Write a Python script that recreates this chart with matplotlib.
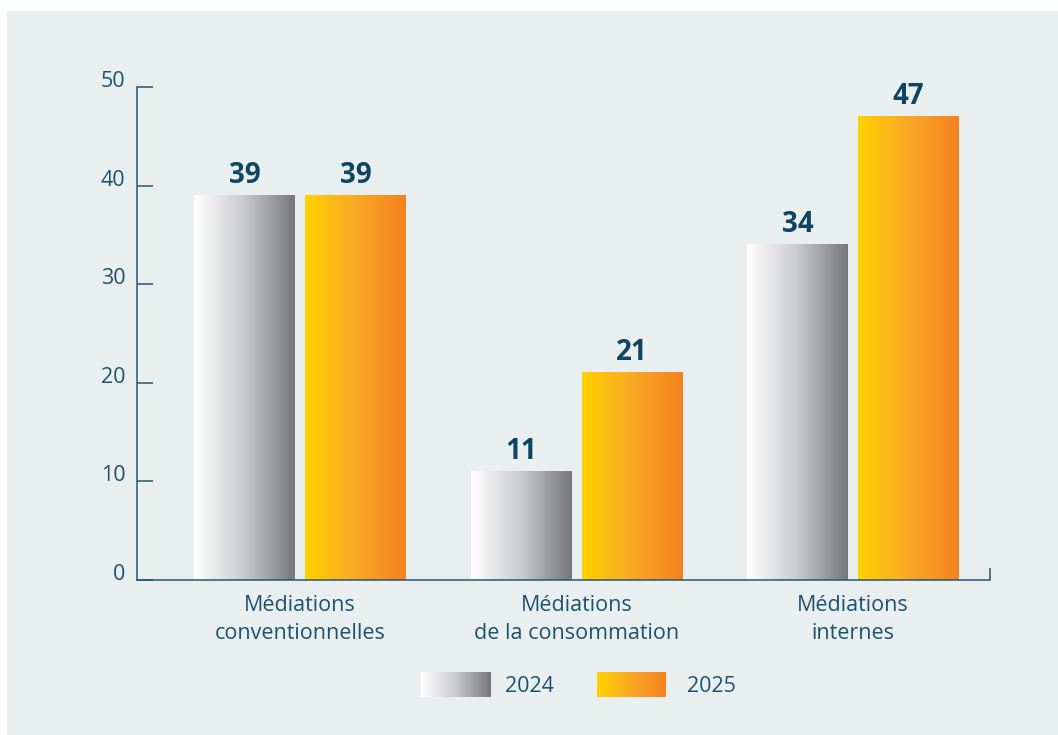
import matplotlib
matplotlib.use('Agg')
import matplotlib.pyplot as plt
import matplotlib.colors as mcolors
from matplotlib.patches import Rectangle
import numpy as np

plt.rcParams['font.family'] = ['Open Sans', 'DejaVu Sans']

categories = ['Médiations\nconventionnelles', 'Médiations\nde la consommation', 'Médiations\ninternes']
years = ['2024', '2025']
values_2024 = [39, 11, 34]
values_2025 = [39, 21, 47]
yticks = [0, 10, 20, 30, 40, 50]

TEXT = '#1D5271'
LABEL = '#0E4662'
AXIS = '#235775'
PANEL = '#E9EFEF'
cmap_2024 = mcolors.LinearSegmentedColormap.from_list('g', ['#FFFFFF', '#C9CACC', '#76777B'])
cmap_2025 = mcolors.LinearSegmentedColormap.from_list('o', ['#FFD200', '#F9A825', '#F58220'])

fig = plt.figure(figsize=(10.58, 7.35), dpi=100)
fig.patch.set_facecolor('white')
fig.patches.append(Rectangle((7 / 1058, 0), 1 - 7 / 1058, 1 - 11 / 735,
                             transform=fig.transFigure, facecolor=PANEL,
                             edgecolor='none', zorder=-10))

ax = fig.add_axes([137 / 1058, 155 / 735, 853 / 1058, 493 / 735])
ax.set_facecolor('none')

x = np.arange(len(categories))
width = 0.365
offset = 0.2007
grad = np.linspace(0, 1, 256).reshape(1, -1)

# gradient bars: one image per bar, stretched to the bar's extent
for vals, sign, cmap in [(values_2024, -1, cmap_2024), (values_2025, 1, cmap_2025)]:
    for xi, v in zip(x, vals):
        x0 = xi + sign * offset - width / 2
        ax.imshow(grad, cmap=cmap, extent=[x0, x0 + width, 0, v],
                  aspect='auto', origin='lower', zorder=2)
        ax.annotate(str(v), (xi + sign * offset, v), textcoords='offset points',
                    xytext=(0, 4), ha='center', va='bottom', fontsize=20,
                    fontweight='bold', color=LABEL)

ax.set_xlim(-0.59, 2.495)
ax.set_ylim(0, 50)
ax.set_yticks(yticks)
ax.set_xticks(x)
ax.set_xticklabels(categories, fontsize=15.5, color=TEXT, linespacing=1.45)
ax.tick_params(axis='x', length=0, pad=11)
ax.tick_params(axis='y', direction='in', length=11.5, width=1.1, color=AXIS,
               labelsize=15.5, labelcolor=TEXT, pad=8.5)
for lab in ax.get_yticklabels():
    lab.set_verticalalignment('baseline')

ax.spines['top'].set_visible(False)
ax.spines['right'].set_visible(False)
for s in ['left', 'bottom']:
    ax.spines[s].set_color(AXIS)
    ax.spines[s].set_linewidth(1.1)
ax.plot([1, 1], [0, 12 / 493], transform=ax.transAxes, color=AXIS,
        lw=1.1, clip_on=False, solid_capstyle='butt')

# legend with gradient swatches
lx = [421, 597]
tx = [505, 687]
for x0, t0, label, cmap in zip(lx, tx, years, [cmap_2024, cmap_2025]):
    lax = fig.add_axes([x0 / 1058, (735 - 697) / 735, 69 / 1058, 25 / 735])
    lax.imshow(grad, cmap=cmap, aspect='auto')
    lax.axis('off')
    fig.text(t0 / 1058, (735 - 686) / 735, label, fontsize=15.5,
             color=TEXT, va='center', ha='left')

plt.savefig('out.png', dpi=100, facecolor=fig.get_facecolor())
